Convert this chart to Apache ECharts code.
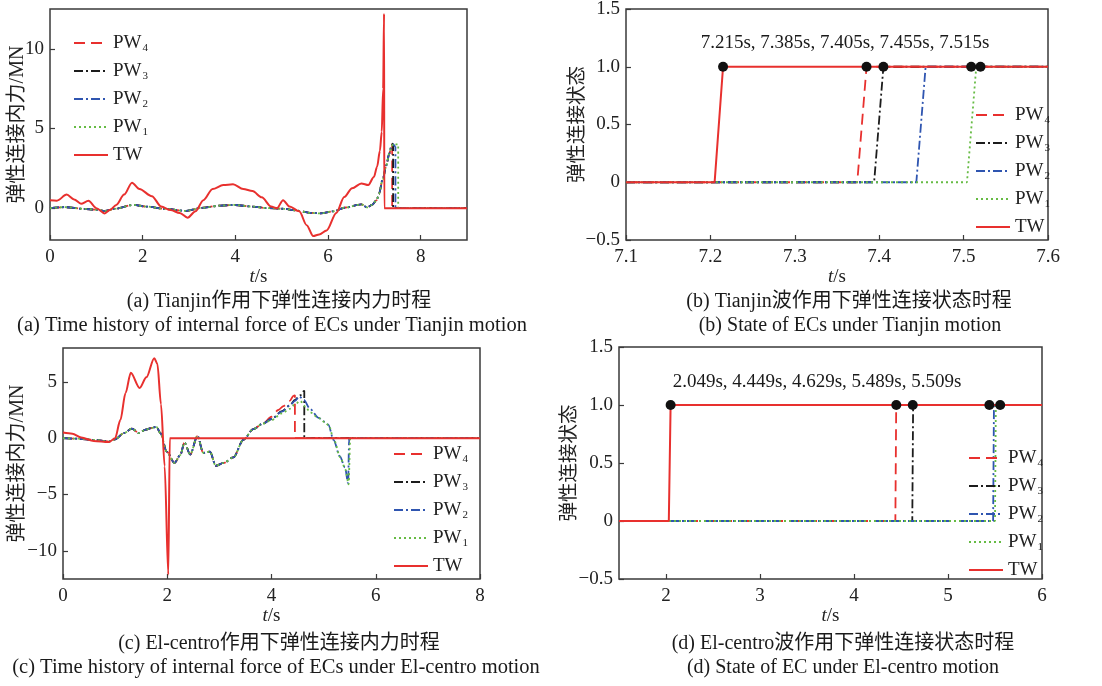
<!DOCTYPE html>
<html>
<head>
<meta charset="utf-8">
<script src="https://cdn.jsdelivr.net/npm/echarts@6/dist/echarts.min.js"></script>
<style>
  html, body { margin: 0; padding: 0; background: #fff; }
  #main { width: 1102px; height: 686px; }
</style>
</head>
<body>
<div id="main"></div>
<script>
// 图(a) Tianjin 作用下弹性连接内力 [t/s, MN]
const tjTW = [[0,0.5],[0.15,0.47],[0.36,0.85],[0.52,0.55],[0.67,0.27],[0.83,0.46],[1.0,0.0],[1.18,-0.33],[1.3,-0.1],[1.43,0.2],[1.6,0.85],[1.77,1.6],[1.93,1.2],[2.2,0.75],[2.4,0.1],[2.6,-0.12],[2.8,-0.3],[2.97,-0.6],[3.14,-0.2],[3.31,0.5],[3.51,1.2],[3.74,1.45],[3.95,1.5],[4.17,1.2],[4.37,1.07],[4.57,0.68],[4.77,0.1],[4.9,0.0],[5.03,0.5],[5.17,0.1],[5.38,-0.2],[5.54,-1.07],[5.68,-1.75],[5.81,-1.65],[5.97,-1.4],[6.18,-0.3],[6.35,0.7],[6.52,1.25],[6.72,1.55],[6.87,1.45],[6.99,1.95],[7.06,2.6],[7.12,3.6],[7.16,4.8],[7.19,7.5],[7.21,12.2],[7.215,0],[9,0]]
const tjPWBase = [[0,0],[0.32,0.06],[0.72,-0.04],[1.0,-0.1],[1.19,-0.17],[1.4,-0.04],[1.8,0.2],[2.07,0.1],[2.47,-0.04],[2.94,-0.17],[3.27,0.02],[3.68,0.16],[3.97,0.2],[4.37,0.1],[4.7,0.0],[5.04,-0.04],[5.3,-0.14],[5.64,-0.3],[5.84,-0.33],[6.11,-0.2],[6.38,0.04],[6.72,0.23],[6.85,0.05],[6.95,0.2],[7.05,0.5],[7.1,0.9],[7.18,1.8],[7.26,2.7],[7.32,3.4],[7.37,3.9]]
const tjPW4 = tjPWBase.concat([[7.385,4.0],[7.385,0],[9,0]])
const tjPW3 = tjPWBase.concat([[7.395,4.05],[7.405,4.0],[7.405,0],[9,0]])
const tjPW2 = tjPWBase.concat([[7.41,4.0],[7.44,3.9],[7.455,3.85],[7.455,0],[9,0]])
const tjPW1 = tjPWBase.concat([[7.42,4.05],[7.48,4.0],[7.515,4.0],[7.515,0],[9,0]])

// 图(b) Tianjin 波作用下弹性连接状态
const tjsTW = [[7.1,0],[7.205,0],[7.215,1],[7.6,1]]
const tjsPW4 = [[7.1,0],[7.374,0],[7.385,1],[7.6,1]]
const tjsPW3 = [[7.1,0],[7.394,0],[7.405,1],[7.6,1]]
const tjsPW2 = [[7.1,0],[7.444,0],[7.455,1],[7.6,1]]
const tjsPW1 = [[7.1,0],[7.504,0],[7.515,1],[7.6,1]]
const tjsDots = [[7.215,1],[7.385,1],[7.405,1],[7.509,1],[7.52,1]]

// 图(c) El-centro 作用下弹性连接内力
const ecTW = [[0,0.5],[0.18,0.4],[0.35,0.05],[0.59,-0.25],[0.88,-0.35],[1.0,0.0],[1.1,1.6],[1.2,4.0],[1.3,5.8],[1.47,4.45],[1.6,5.4],[1.75,7.1],[1.81,6.6],[1.88,3.0],[1.95,-2.5],[2.02,-12.1],[2.049,0],[8,0]]
const ecPWBase = [[0,0],[0.3,-0.05],[0.59,-0.15],[0.88,-0.3],[1.0,-0.1],[1.17,0.45],[1.32,0.85],[1.46,0.45],[1.58,0.75],[1.7,0.9],[1.79,1.0],[1.87,0.45],[1.99,-1.2],[2.14,-2.2],[2.25,-1.5],[2.33,-0.4],[2.44,-1.45],[2.58,0.2],[2.69,-1.3],[2.82,-1.2],[2.93,-2.45],[3.08,-2.2],[3.27,-1.7],[3.46,-0.15],[3.65,0.8],[3.84,1.3]]
const ecPW4 = ecPWBase.concat([[4.0,1.9],[4.13,2.5],[4.23,2.85],[4.35,3.3],[4.42,3.75],[4.449,3.8],[4.449,0],[8,0]])
const ecPW3 = ecPWBase.concat([[4.0,1.7],[4.2,2.4],[4.35,2.9],[4.45,3.4],[4.55,3.8],[4.629,4.2],[4.629,0],[8,0]])
const ecPW2 = ecPWBase.concat([[4.0,1.7],[4.2,2.35],[4.35,2.9],[4.45,3.3],[4.53,3.7],[4.62,3.4],[4.74,2.6],[4.9,1.8],[5.03,1.45],[5.09,1.2],[5.19,-0.15],[5.31,-1.6],[5.41,-2.6],[5.47,-4.0],[5.489,-0.2],[5.489,0],[8,0]])
const ecPW1 = ecPWBase.concat([[4.0,1.6],[4.2,2.2],[4.35,2.6],[4.45,3.0],[4.55,3.3],[4.65,2.8],[4.74,2.3],[4.9,1.8],[5.03,1.4],[5.1,1.1],[5.2,-0.2],[5.32,-1.7],[5.42,-2.8],[5.48,-4.1],[5.509,-0.2],[5.509,0],[8,0]])

// 图(d) El-centro 波作用下弹性连接状态
const ecsTW = [[1.5,0],[2.03,0],[2.049,1],[6,1]]
const ecsPW4 = [[1.5,0],[4.44,0],[4.449,1],[6,1]]
const ecsPW3 = [[1.5,0],[4.62,0],[4.629,1],[6,1]]
const ecsPW2 = [[1.5,0],[5.48,0],[5.489,1],[6,1]]
const ecsPW1 = [[1.5,0],[5.5,0],[5.509,1],[6,1]]
const ecsDots = [[2.049,1],[4.45,1],[4.625,1],[5.44,1],[5.555,1]]

// 刻度
const tjTicksX = [0,2,4,6,8]
const tjTicksY = [0,5,10]
const tjsTicksX = [7.1,7.2,7.3,7.4,7.5,7.6]
const stateTicksY = [-0.5,0,0.5,1.0,1.5]
const ecTicksX = [0,2,4,6,8]
const ecTicksY = [-10,-5,0,5]
const ecsTicksX = [2,3,4,5,6]

const serif = "'Liberation Serif', 'Noto Sans CJK SC', serif"
const names = ['PW4','PW3','PW2','PW1','TW']
const lineStyles = {
    PW4: { color: '#e8302e', type: [11, 6], width: 1.8 },
    PW3: { color: '#1c1c1c', type: [9, 3, 2, 3], width: 1.8 },
    PW2: { color: '#2f55b0', type: [9, 3, 2, 3], width: 1.8 },
    PW1: { color: '#66bb44', type: [2, 3], width: 1.8 },
    TW:  { color: '#e8302e', type: 'solid', width: 2 }
}

const chart = echarts.init(document.getElementById('main'), null, { renderer: 'canvas' })

// 网格（四个子图）
const grids = [
    { left: 50, top: 9, width: 417, height: 231 },
    { left: 626, top: 9, width: 422, height: 231 },
    { left: 63, top: 348, width: 417, height: 231 },
    { left: 619, top: 347, width: 423, height: 232 }
].map(g => Object.assign({ show: true, borderColor: '#3a3a3a', borderWidth: 1.5, backgroundColor: 'transparent', outerBoundsMode: 'none' }, g))

const minus = v => (v < 0 ? '\u2212' : '') + Math.abs(v)
const stateFmt = v => v === 0 ? '0' : (v < 0 ? '\u2212' : '') + Math.abs(v).toFixed(1)

function xAxisOf(idx, min, max, ticks, fmt) {
    return {
        type: 'value', gridIndex: idx, min: min, max: max,
        name: '{i|t}/s', nameLocation: 'middle', nameGap: 24,
        nameTextStyle: { fontFamily: serif, fontSize: 19, color: '#222', rich: { i: { fontStyle: 'italic', fontFamily: serif, fontSize: 19, color: '#222' } } },
        axisLine: { show: false, onZero: false },
        axisTick: { show: true, inside: true, length: 5, customValues: ticks, lineStyle: { color: '#3a3a3a', width: 1.2 } },
        axisLabel: { customValues: ticks, formatter: fmt, fontFamily: serif, fontSize: 19, color: '#222', margin: 8 },
        splitLine: { show: false }
    }
}
function yAxisOf(idx, min, max, ticks, fmt, name, gap, size) {
    return {
        type: 'value', gridIndex: idx, min: min, max: max,
        name: name, nameLocation: 'middle', nameGap: gap, nameMoveOverlap: false,
        nameTextStyle: { fontFamily: serif, fontSize: size, color: '#222' },
        axisLine: { show: false, onZero: false },
        axisTick: { show: true, inside: true, length: 5, customValues: ticks, lineStyle: { color: '#3a3a3a', width: 1.2 } },
        axisLabel: { customValues: ticks, formatter: fmt, fontFamily: serif, fontSize: 19, color: '#222', margin: 6 },
        splitLine: { show: false }
    }
}

function linesOf(idx, sets, smooth) {
    return names.map((n, k) => ({
        name: n, type: 'line', xAxisIndex: idx, yAxisIndex: idx, data: sets[k],
        symbol: 'none', showSymbol: false, smooth: smooth, smoothMonotone: 'x',
        lineStyle: lineStyles[n], itemStyle: { color: lineStyles[n].color },
        z: n === 'TW' ? 5 : 3
    }))
}
function dotsOf(idx, data) {
    return {
        type: 'scatter', xAxisIndex: idx, yAxisIndex: idx, data: data,
        symbolSize: 10, itemStyle: { color: '#111', opacity: 1 }, z: 10
    }
}
function legendOf(left, top) {
    return {
        data: names, orient: 'vertical', left: left, top: top,
        itemWidth: 34, itemHeight: 14, itemGap: 6,
        itemStyle: { opacity: 0 },
        formatter: n => n === 'TW' ? 'TW' : 'PW{s|' + n.slice(2) + '}',
        textStyle: {
            fontFamily: serif, fontSize: 19, color: '#222', lineHeight: 22,
            rich: { s: { fontFamily: serif, fontSize: 11, color: '#222', verticalAlign: 'bottom', lineHeight: 22, padding: [8, 0, 0, 1] } }
        }
    }
}
function caption(x, y, text, size) {
    return { type: 'text', x: x, y: y, style: { text: text, fontFamily: serif, fontSize: size, fill: '#1a1a1a', align: 'center', verticalAlign: 'middle' } }
}

const option = {
    backgroundColor: '#fff',
    animation: false,
    grid: grids,
    xAxis: [
        xAxisOf(0, 0, 9, tjTicksX, v => '' + v),
        xAxisOf(1, 7.1, 7.6, tjsTicksX, v => v.toFixed(1)),
        xAxisOf(2, 0, 8, ecTicksX, v => '' + v),
        xAxisOf(3, 1.5, 6, ecsTicksX, v => '' + v)
    ],
    yAxis: [
        yAxisOf(0, -2, 12.5, tjTicksY, minus, '弹性连接内力/MN', 22, 20),
        yAxisOf(1, -0.5, 1.5, stateTicksY, stateFmt, '弹性连接状态', 38, 19.5),
        yAxisOf(2, -12.5, 8, ecTicksY, minus, '弹性连接内力/MN', 35, 20),
        yAxisOf(3, -0.5, 1.5, stateTicksY, stateFmt, '弹性连接状态', 39, 19.5)
    ],
    legend: [
        legendOf(68, 27),
        legendOf(970, 99),
        legendOf(388, 438),
        legendOf(963, 442)
    ],
    series: [].concat(
        linesOf(0, [tjPW4, tjPW3, tjPW2, tjPW1, tjTW], 0.3),
        linesOf(1, [tjsPW4, tjsPW3, tjsPW2, tjsPW1, tjsTW], false),
        [dotsOf(1, tjsDots)],
        linesOf(2, [ecPW4, ecPW3, ecPW2, ecPW1, ecTW], 0.3),
        linesOf(3, [ecsPW4, ecsPW3, ecsPW2, ecsPW1, ecsTW], false),
        [dotsOf(3, ecsDots)]
    ),
    graphic: [
        caption(845, 43, '7.215s, 7.385s, 7.405s, 7.455s, 7.515s', 19),
        caption(817, 382, '2.049s, 4.449s, 4.629s, 5.489s, 5.509s', 19),
        caption(279, 302, '(a) Tianjin作用下弹性连接内力时程', 20),
        caption(272, 326, '(a) Time history of internal force of ECs under Tianjin motion', 20.5),
        caption(849, 302, '(b) Tianjin波作用下弹性连接状态时程', 20),
        caption(850, 326, '(b) State of ECs under Tianjin motion', 20),
        caption(279, 644, '(c) El-centro作用下弹性连接内力时程', 20),
        caption(276, 668, '(c) Time history of internal force of ECs under El-centro motion', 20.5),
        caption(843, 644, '(d) El-centro波作用下弹性连接状态时程', 20),
        caption(843, 668, '(d) State of EC under El-centro motion', 20)
    ]
}

chart.setOption(option)
</script>
</body>
</html>
